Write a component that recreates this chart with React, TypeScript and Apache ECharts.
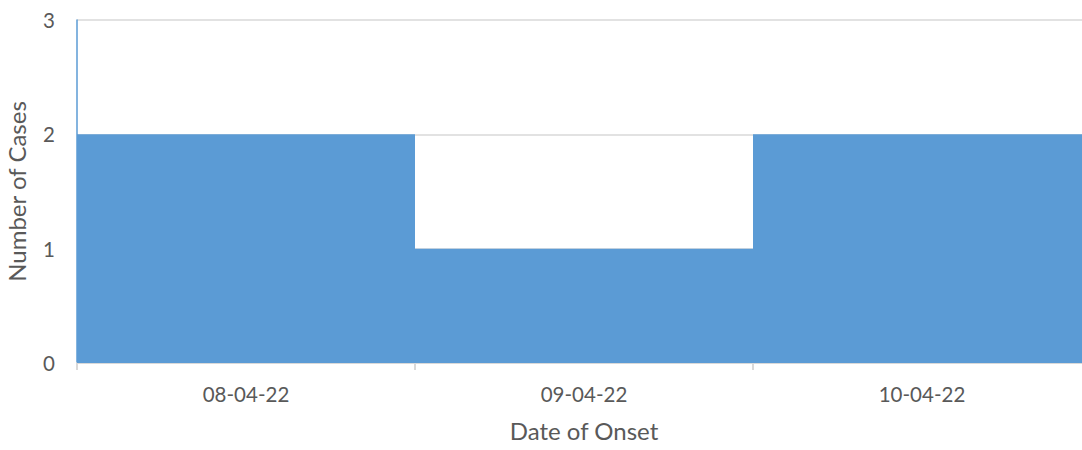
import React, { useEffect, useRef } from "react";
import * as echarts from "echarts";

const categories = ["08-04-22", "09-04-22", "10-04-22"];
const cases = [2, 1, 2];
const yTicks = { min: 0, max: 3, interval: 1 };

export default function App() {
  const ref = useRef<HTMLDivElement>(null);
  useEffect(() => {
    const chart = echarts.init(ref.current!, null, { renderer: "svg" });
    const font = "Lato, 'Open Sans', sans-serif";
    chart.setOption({
      animation: false,
      grid: { left: 77, right: -9, top: 20, bottom: 87, containLabel: false, outerBoundsMode: "none" },
      xAxis: {
        type: "category",
        data: categories,
        boundaryGap: true,
        name: "Date of Onset",
        nameLocation: "middle",
        nameGap: 55,
        nameTextStyle: { fontSize: 24, color: "#595959", fontFamily: font },
        axisLine: { show: true, lineStyle: { color: "#d9d9d9", width: 2 } },
        axisTick: { show: true, alignWithLabel: false, length: 7, lineStyle: { color: "#d9d9d9", width: 2 } },
        axisLabel: { fontSize: 20.5, color: "#595959", fontFamily: font, margin: 20 },
        splitLine: { show: false },
      },
      yAxis: {
        type: "value",
        min: yTicks.min,
        max: yTicks.max,
        interval: yTicks.interval,
        name: "Number of Cases",
        nameLocation: "middle",
        nameGap: 49,
        nameTextStyle: { fontSize: 24, color: "#595959", fontFamily: font },
        axisLine: { show: true, lineStyle: { color: "#5b9bd5", width: 1.5 } },
        axisTick: { show: false },
        axisLabel: { fontSize: 20.5, color: "#595959", fontFamily: font, margin: 22 },
        splitLine: { show: true, lineStyle: { color: "#d9d9d9", width: 1.5 } },
      },
      series: [
        {
          type: "bar",
          data: cases,
          barWidth: "100%",
          barGap: "0%",
          itemStyle: { color: "#5b9bd5" },
          z: 3,
        },
      ],
    });
    return () => chart.dispose();
  }, []);
  return <div ref={ref} style={{ width: 1082, height: 450, position: "absolute", left: 0, top: 0 }} />;
}
